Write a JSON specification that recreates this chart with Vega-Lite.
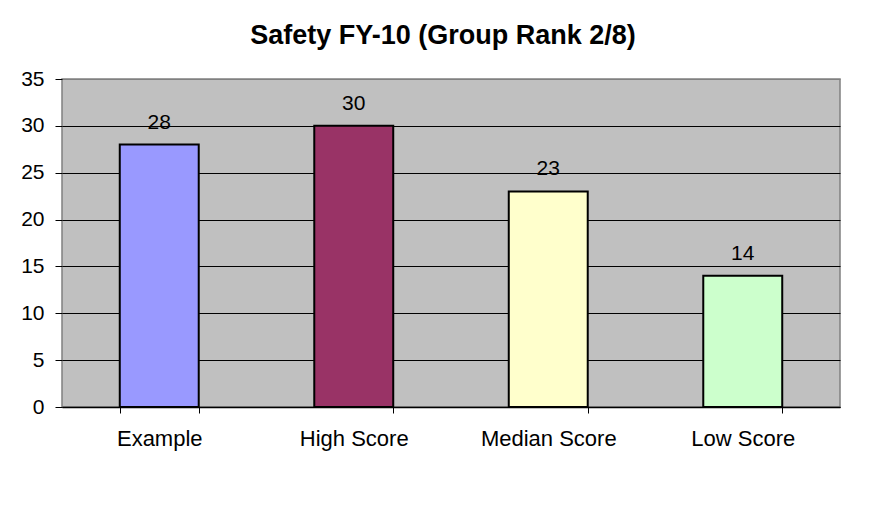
{
  "$schema": "https://vega.github.io/schema/vega-lite/v6.json",
  "autosize": {"type": "none"},
  "width": 778,
  "height": 328,
  "padding": {"left": 62, "top": 79, "right": 33, "bottom": 119},
  "background": "white",
  "config": {
    "view": {"fill": "#C0C0C0", "stroke": "#808080", "strokeWidth": 1.5},
    "font": "Liberation Sans"
  },
  "title": {
    "text": "Safety FY-10 (Group Rank 2/8)",
    "font": "Liberation Sans",
    "fontSize": 27,
    "fontWeight": "bold",
    "color": "black",
    "anchor": "middle",
    "frame": "group",
    "baseline": "alphabetic",
    "offset": -3,
    "dx": -8
  },
  "data": {
    "values": [
      {"category": "Example", "score": 28},
      {"category": "High Score", "score": 30},
      {"category": "Median Score", "score": 23},
      {"category": "Low Score", "score": 14}
    ]
  },
  "encoding": {
    "x": {
      "field": "category",
      "type": "nominal",
      "sort": null,
      "title": null,
      "scale": {"paddingInner": 0.594, "paddingOuter": 0.297},
      "axis": {
        "labelAngle": 0,
        "labelFont": "Liberation Sans",
        "labelFontSize": 22,
        "labelColor": "black",
        "labelPadding": 15,
        "domainColor": "black",
        "domainWidth": 1.5,
        "tickColor": "black",
        "tickSize": 6,
        "tickBand": "extent",
        "grid": false
      }
    },
    "y": {
      "field": "score",
      "type": "quantitative",
      "title": null,
      "scale": {"domain": [0, 35], "nice": false},
      "axis": {
        "values": [0, 5, 10, 15, 20, 25, 30, 35],
        "labelFont": "Liberation Sans",
        "labelFontSize": 21,
        "labelColor": "black",
        "labelPadding": 11,
        "domain": false,
        "tickColor": "black",
        "tickSize": 7,
        "grid": true,
        "gridColor": {"condition": {"test": "datum.value === 35", "value": "#808080"}, "value": "black"},
        "gridWidth": 1.2,
        "gridOpacity": 1
      }
    }
  },
  "layer": [
    {
      "mark": {"type": "bar", "stroke": "black", "strokeWidth": 2},
      "encoding": {
        "color": {
          "field": "category",
          "type": "nominal",
          "sort": null,
          "legend": null,
          "scale": {
            "domain": ["Example", "High Score", "Median Score", "Low Score"],
            "range": ["#9999FF", "#993366", "#FFFFCC", "#CCFFCC"]
          }
        }
      }
    },
    {
      "mark": {"type": "text", "font": "Liberation Sans", "fontSize": 21, "color": "black", "baseline": "alphabetic", "dy": -16},
      "encoding": {"text": {"field": "score", "type": "quantitative"}}
    }
  ]
}
